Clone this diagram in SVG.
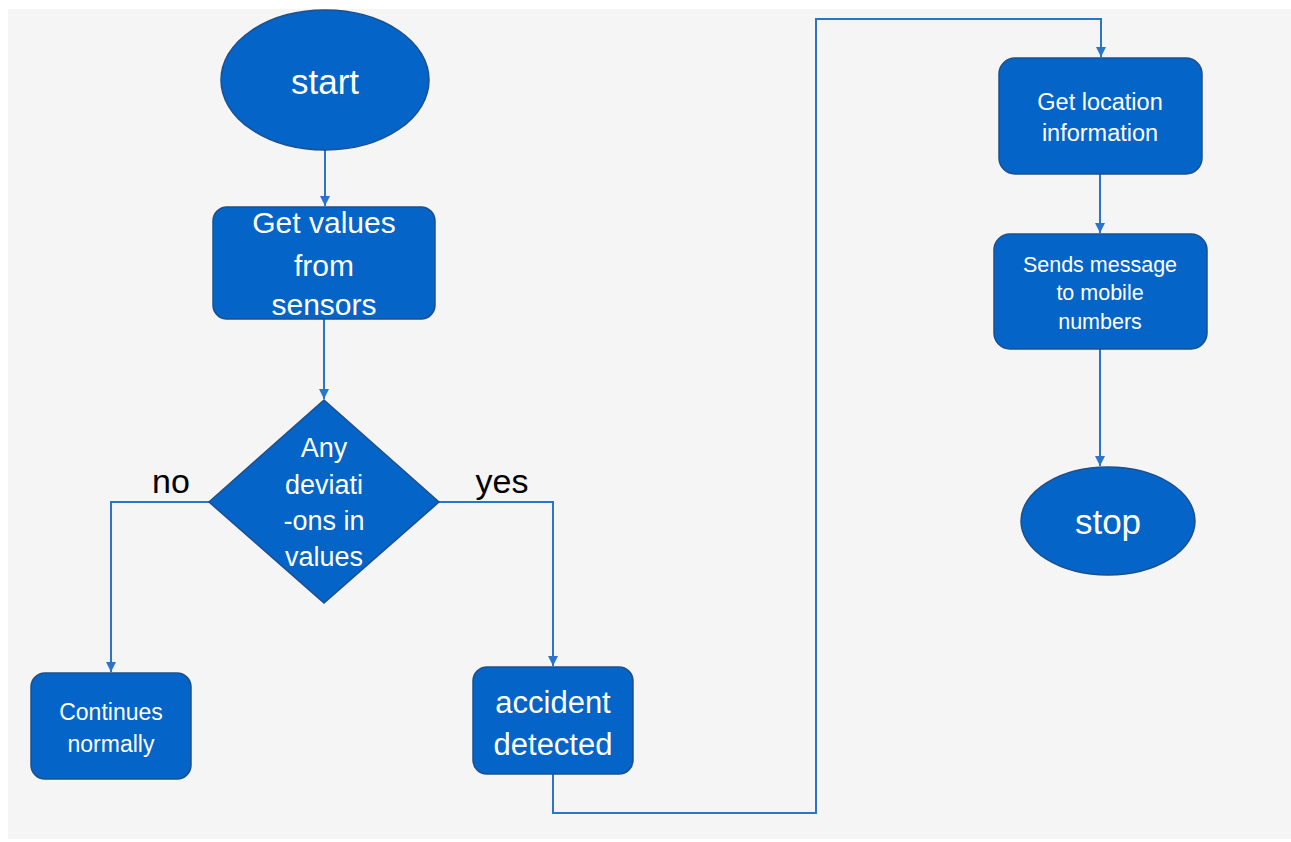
<svg xmlns="http://www.w3.org/2000/svg" width="1291" height="842" viewBox="0 0 1291 842">
<defs>
<marker id="ah" viewBox="0 0 10 10" refX="10" refY="5" markerWidth="10" markerHeight="10" markerUnits="userSpaceOnUse" orient="auto">
<path d="M0,0 L10,5 L0,10 z" fill="#2a74cc"/>
</marker>
</defs>
<style>
.shape{fill:#0564c8;stroke:#1d4f8c;stroke-width:1.5}
.t{fill:#ffffff;font-family:"Liberation Sans",Arial,sans-serif;text-anchor:middle}
.lbl{fill:#000000;font-family:"Liberation Sans",Arial,sans-serif;font-size:34px;text-anchor:middle}
.c{fill:none;stroke:#2a74cc;stroke-width:2}
</style>
<rect x="0" y="0" width="1291" height="842" fill="#ffffff"/>
<rect x="8" y="9" width="1283" height="830" fill="#f5f5f5"/>
<g id="connectors">
<path class="c" d="M325,150 V206" marker-end="url(#ah)"/>
<path class="c" d="M324,319 V399" marker-end="url(#ah)"/>
<path class="c" d="M209,502 H111 V672" marker-end="url(#ah)"/>
<path class="c" d="M439,502 H553 V666" marker-end="url(#ah)"/>
<path class="c" d="M553,774 V813 H816 V19 H1101 V57" marker-end="url(#ah)"/>
<path class="c" d="M1100,174 V233" marker-end="url(#ah)"/>
<path class="c" d="M1100,349 V466" marker-end="url(#ah)"/>
</g>
<g id="lbl-no"><text class="lbl" x="171" y="493">no</text></g>
<g id="lbl-yes"><text class="lbl" x="502" y="493">yes</text></g>
<g id="start">
<ellipse class="shape" cx="325" cy="80" rx="104" ry="70"/>
<text class="t" x="325" y="94" font-size="35">start</text>
</g>
<g id="get-values">
<rect class="shape" x="213" y="207" width="222" height="112" rx="14"/>
<text class="t" font-size="30"><tspan x="324" y="233">Get values</tspan><tspan x="324" y="276">from</tspan><tspan x="324" y="315">sensors</tspan></text>
</g>
<g id="decision">
<polygon class="shape" points="324,400 439,502 324,603 209,502"/>
<text class="t" font-size="27"><tspan x="324" y="457">Any</tspan><tspan x="324" y="494">deviati</tspan><tspan x="324" y="530">-ons in</tspan><tspan x="324" y="566">values</tspan></text>
</g>
<g id="continues">
<rect class="shape" x="31" y="673" width="160" height="106" rx="14"/>
<text class="t" font-size="23"><tspan x="111" y="720">Continues</tspan><tspan x="111" y="752">normally</tspan></text>
</g>
<g id="accident">
<rect class="shape" x="473" y="667" width="160" height="107" rx="14"/>
<text class="t" font-size="31"><tspan x="553" y="713">accident</tspan><tspan x="553" y="755">detected</tspan></text>
</g>
<g id="location">
<rect class="shape" x="999" y="58" width="203" height="116" rx="16"/>
<text class="t" font-size="23.5"><tspan x="1100" y="110">Get location</tspan><tspan x="1100" y="141">information</tspan></text>
</g>
<g id="sends">
<rect class="shape" x="994" y="234" width="213" height="115" rx="16"/>
<text class="t" font-size="21.5"><tspan x="1100" y="272">Sends message</tspan><tspan x="1100" y="300">to mobile</tspan><tspan x="1100" y="329">numbers</tspan></text>
</g>
<g id="stop">
<ellipse class="shape" cx="1108" cy="521" rx="87" ry="54"/>
<text class="t" x="1108" y="534" font-size="35">stop</text>
</g>
</svg>
